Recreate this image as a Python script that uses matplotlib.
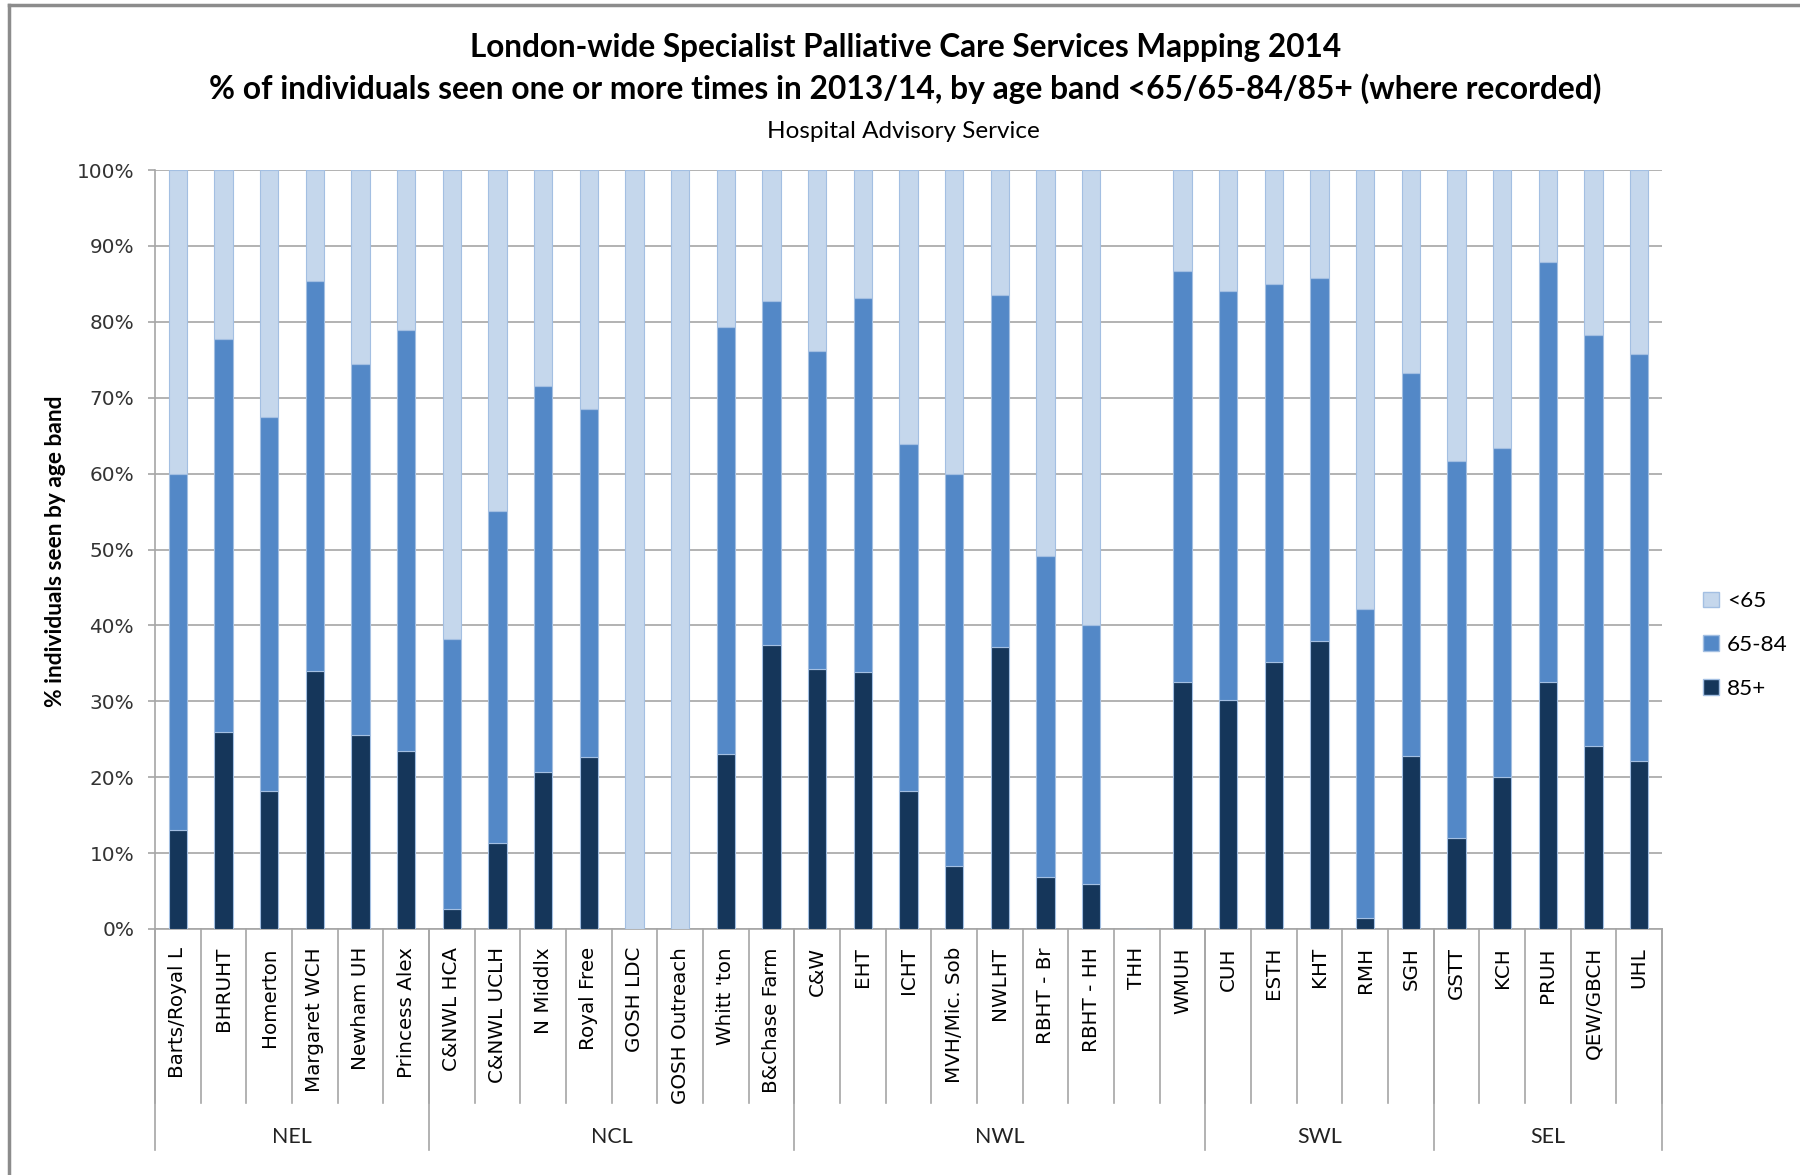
import matplotlib.pyplot as plt
import matplotlib.transforms as mtransforms
from matplotlib.patches import Patch
import numpy as np

# services (x categories) and their region groups
services = ['Barts/Royal L', 'BHRUHT', 'Homerton', 'Margaret WCH', 'Newham UH', 'Princess Alex',
            'C&NWL HCA', 'C&NWL UCLH', 'N Middlx', 'Royal Free', 'GOSH LDC', 'GOSH Outreach',
            "Whitt 'ton", 'B&Chase Farm',
            'C&W', 'EHT', 'ICHT', 'MVH/Mic. Sob', 'NWLHT', 'RBHT - Br', 'RBHT - HH', 'THH', 'WMUH',
            'CUH', 'ESTH', 'KHT', 'RMH', 'SGH',
            'GSTT', 'KCH', 'PRUH', 'QEW/GBCH', 'UHL']
groups = ['NEL', 'NCL', 'NWL', 'SWL', 'SEL']
group_sizes = [6, 8, 9, 5, 5]

# % of individuals in each age band
age_85plus = [13.0, 25.9, 18.2, 34.0, 25.6, 23.5,
              2.6, 11.3, 20.7, 22.6, 0, 0, 23.1, 37.4,
              34.3, 33.8, 18.2, 8.3, 37.2, 6.9, 5.9, 0, 32.6,
              30.2, 35.2, 38.0, 1.4, 22.8,
              12.0, 20.0, 32.6, 24.1, 22.2]
age_65_84 = [47.0, 51.8, 49.3, 51.4, 48.8, 55.4,
             35.6, 43.8, 50.9, 45.9, 0, 0, 56.2, 45.4,
             41.8, 49.3, 45.7, 51.7, 46.3, 42.3, 34.1, 0, 54.1,
             53.9, 49.8, 47.8, 40.8, 50.4,
             49.7, 43.4, 55.3, 54.2, 53.6]
age_under65 = [40.0, 22.3, 32.5, 14.6, 25.6, 21.1,
               61.8, 44.9, 28.4, 31.5, 100, 100, 20.7, 17.2,
               23.9, 16.9, 36.1, 40.0, 16.5, 50.8, 60.0, 0, 13.3,
               15.9, 15.0, 14.2, 57.8, 26.8,
               38.3, 36.6, 12.1, 21.7, 24.2]

c_dark = '#15365a'
c_mid = '#5388c7'
c_light = '#c5d7ec'
c_edge = '#a3bfe2'
c_grid = '#a6a6a6'

fig = plt.figure(figsize=(18, 11.75), dpi=100)
ax = fig.add_axes([155/1800, 1-929/1175, (1662-155)/1800, (929-170)/1175])

x = np.arange(len(services))
w = 0.4
b85 = np.array(age_85plus)
b65 = np.array(age_65_84)
ax.bar(x, age_85plus, w, color=c_dark, edgecolor=c_edge, linewidth=0.8, zorder=3)
ax.bar(x, age_65_84, w, bottom=b85, color=c_mid, edgecolor=c_edge, linewidth=0.8, zorder=3)
ax.bar(x, age_under65, w, bottom=b85 + b65, color=c_light, edgecolor=c_edge, linewidth=0.8, zorder=3)

ax.set_xlim(-0.5, len(services) - 0.5)
ax.set_ylim(0, 100)
ax.set_yticks(np.arange(0, 101, 10))
ax.set_yticklabels(['%d%%' % v for v in range(0, 101, 10)], fontsize=14.4, color='#333333',
                   family='DejaVu Sans')
ax.yaxis.grid(True, color=c_grid, linewidth=1.2, zorder=0)
ax.tick_params(axis='y', length=5, width=1.2, color=c_grid, direction='out', pad=10)

ax.set_xticks(x)
ax.set_xticklabels(services, rotation=90, fontsize=14.3, family='DejaVu Sans', va='top')
ax.tick_params(axis='x', length=0, pad=13)

for s in ['top', 'right']:
    ax.spines[s].set_visible(False)
for s in ['left', 'bottom']:
    ax.spines[s].set_color(c_grid)
    ax.spines[s].set_linewidth(1.2)

# category and group separators below the axis
trans = mtransforms.blended_transform_factory(ax.transData, ax.transAxes)
for i in range(len(services) + 1):
    ax.plot([i - 0.5, i - 0.5], [0, -0.229], transform=trans, color=c_grid, lw=1.2, clip_on=False)
edges = np.concatenate([[0], np.cumsum(group_sizes)]) - 0.5
for e in edges:
    ax.plot([e, e], [0, -0.291], transform=trans, color=c_grid, lw=1.2, clip_on=False)
for g, a, b in zip(groups, edges[:-1], edges[1:]):
    ax.text((a + b) / 2, -0.274, g, transform=trans, ha='center', va='center',
            fontsize=15.4, family='Lato', color='#222222')

# titles
fig.text(0.503, 1-48/1175, 'London-wide Specialist Palliative Care Services Mapping 2014',
         ha='center', va='center', fontsize=22.7, fontweight='bold', family='Lato')
fig.text(0.503, 1-89/1175,
         '% of individuals seen one or more times in 2013/14, by age band <65/65-84/85+ (where recorded)',
         ha='center', va='center', fontsize=22.9, fontweight='bold', family='Lato')
fig.text(0.502, 1-131/1175, 'Hospital Advisory Service', ha='center', va='center',
         fontsize=17.5, family='Lato')
fig.text(55/1800, 1-551/1175, '% individuals seen by age band', rotation=90, ha='center',
         va='center', fontsize=16.4, fontweight='bold', family='Lato')

handles = [Patch(facecolor=c_light, edgecolor=c_edge, label='<65'),
           Patch(facecolor=c_mid, edgecolor=c_edge, label='65-84'),
           Patch(facecolor=c_dark, edgecolor=c_edge, label='85+')]
fig.legend(handles=handles, loc='center left', bbox_to_anchor=(1683/1800, 1-645/1175),
           frameon=False, prop={'family': 'Lato', 'size': 16.2}, handlelength=0.7,
           handleheight=0.7, handletextpad=0.35, labelspacing=1.05)

# outer frame lines (left and top)
fig.add_artist(plt.Line2D([9/1800, 9/1800], [0, 1-5/1175], color='#8c8c8c', lw=2.5))
fig.add_artist(plt.Line2D([9/1800, 1], [1-5/1175, 1-5/1175], color='#8c8c8c', lw=2.5))

fig.savefig('out.png', dpi=100)
